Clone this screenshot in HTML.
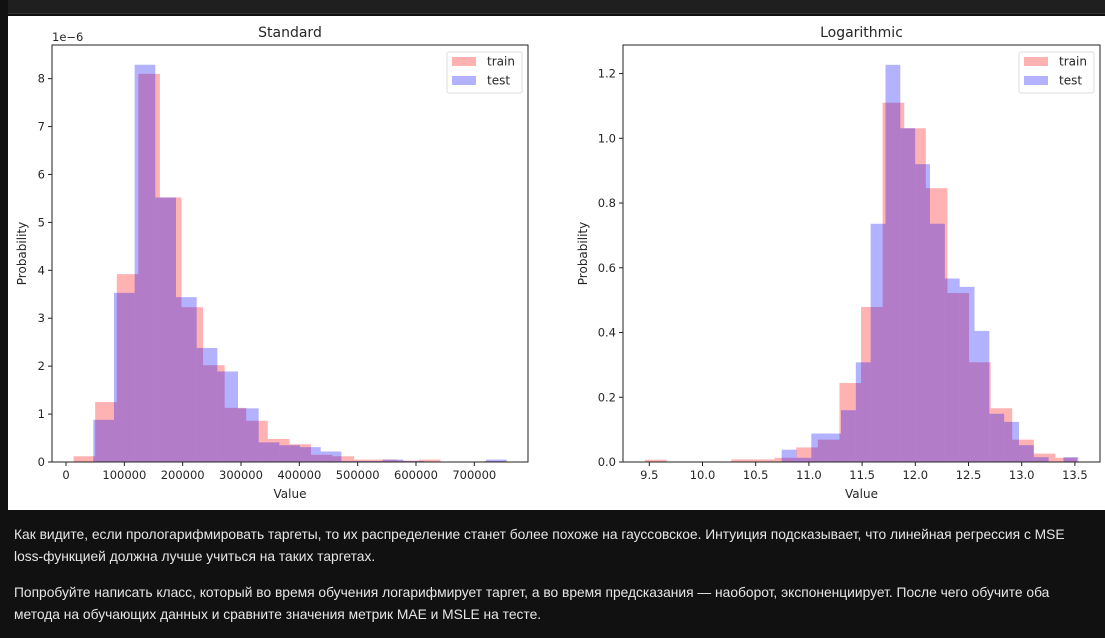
<!DOCTYPE html>
<html><head><meta charset="utf-8"><style>
body{margin:0;background:#111;width:1105px;height:638px;overflow:hidden;font-family:"Liberation Sans","DejaVu Sans",sans-serif}
#top{position:absolute;left:8px;top:0;width:1097px;height:13px;background:#1f1f1f;border-bottom:1px solid #333}
#chart{position:absolute;left:0;top:0}
.p{position:absolute;left:14px;color:#e6e6e6;font-size:13.8px;line-height:22px;font-family:"Liberation Sans","DejaVu Sans",sans-serif;white-space:nowrap}
</style></head><body>
<div id="top"></div>
<svg id="chart" width="1105" height="638" font-family="DejaVu Sans, Liberation Sans, sans-serif">
<rect x="8" y="16" width="1097" height="494" fill="#fff"/>
<g id="g1"></g>
<g id="g2"></g>
</svg>
<div class="p" style="top:524px">Как видите, если прологарифмировать таргеты, то их распределение станет более похоже на гауссовское. Интуиция подсказывает, что линейная регрессия с MSE<br>loss-функцией должна лучше учиться на таких таргетах.</div>
<div class="p" style="top:582px">Попробуйте написать класс, который во время обучения логарифмирует таргет, а во время предсказания — наоборот, экспоненциирует. После чего обучите оба<br>метода на обучающих данных и сравните значения метрик MAE и MSLE на тесте.</div>
<script>
const stdTrainStart = 13000, stdTrainWidth = 37000;
const stdTrainVals = [0.12,1.25,3.92,8.10,5.52,3.23,2.02,1.13,0.86,0.48,0.37,0.15,0.12,0.05,0.05,0.03,0.05,0,0,0.02];
const stdTestStart = 46800, stdTestWidth = 35440;
const stdTestVals = [0.88,3.53,8.29,5.52,3.44,2.38,1.89,1.12,0.41,0.35,0.31,0.22,0.02,0.02,0.05,0.02,0,0,0,0.05];
const stdXTicks = [0,100000,200000,300000,400000,500000,600000,700000];
const stdYTicks = [0,1,2,3,4,5,6,7,8];
const logTrainStart = 9.46, logTrainWidth = 0.203;
const logTrainVals = [0.007,0,0,0,0.008,0.008,0.013,0.045,0.069,0.244,0.479,1.11,1.031,0.846,0.522,0.308,0.166,0.069,0.026,0.013];
const logTestStart = 10.744, logTestWidth = 0.1394;
const logTestVals = [0.038,0.013,0.088,0.088,0.160,0.308,0.736,1.227,1.031,0.92,0.736,0.567,0.541,0.405,0.149,0.124,0.052,0.015,0,0.015];
const logXTicks = [9.5,10.0,10.5,11.0,11.5,12.0,12.5,13.0,13.5];
const logYTicks = [0,0.2,0.4,0.6,0.8,1.0,1.2];
const NS='http://www.w3.org/2000/svg';
function mk(p,t,a){const e=document.createElementNS(NS,t);for(const k in a)e.setAttribute(k,a[k]);p.appendChild(e);return e;}
function panel(g,o){
  const L=o.L,R=o.R,T=45,B=462;
  const sx=v=>o.x0px+(v-o.x0)*o.kx, sy=v=>B-v*o.ky;
  [[o.trS,o.trW,o.trV,'#ff0000','train'],[o.teS,o.teW,o.teV,'#0000ff','test']].forEach(s=>{
    s[2].forEach((v,i)=>{
      if(v<=0)return;
      const x1=sx(s[0]+i*s[1]),x2=sx(s[0]+(i+1)*s[1]);
      const r=mk(g,'rect',{x:x1,y:sy(v),width:x2-x1,height:B-sy(v),fill:s[3],'fill-opacity':0.3});
      
      
    });
  });
  const fr=mk(g,'rect',{x:L,y:T,width:R-L,height:B-T,fill:'none',stroke:'#222','stroke-width':1});
  
  
  o.xt.forEach(v=>{const x=sx(v);mk(g,'line',{x1:x,x2:x,y1:B,y2:B+4,stroke:'#222'});
    const t=mk(g,'text',{x:x,y:B+17,'text-anchor':'middle','font-size':11.5,fill:'#262626'});t.textContent=o.xf(v);
    
    });
  o.yt.forEach(v=>{const y=sy(v);mk(g,'line',{x1:L-4,x2:L,y1:y,y2:y,stroke:'#222'});
    const t=mk(g,'text',{x:L-7,y:y+4,'text-anchor':'end','font-size':11.5,fill:'#262626'});t.textContent=o.yf(v);
    
    });
  let t=mk(g,'text',{x:(L+R)/2,y:37,'text-anchor':'middle','font-size':14,fill:'#262626'});t.textContent=o.title;
  
  
  t=mk(g,'text',{x:(L+R)/2,y:498,'text-anchor':'middle','font-size':12,fill:'#262626'});t.textContent='Value';
  
  
  t=mk(g,'text',{x:o.yl,y:(T+B)/2,'text-anchor':'middle','font-size':12,fill:'#262626',transform:'rotate(-90 '+o.yl+' '+(T+B)/2+')'});t.textContent='Probability';
  
  
  const lx=o.lx;
  const lg=mk(g,'g',{});
  
  
  mk(lg,'rect',{x:lx,y:52,width:75,height:41,rx:2,fill:'#fff','fill-opacity':0.8,stroke:'#ddd'});
  [['train','#ff0000',61],['test','#0000ff',80]].forEach(e=>{
    mk(lg,'rect',{x:lx+5,y:e[2]-4,width:24,height:9,fill:e[1],'fill-opacity':0.3});
    const tt=mk(lg,'text',{x:lx+40,y:e[2]+4.5,'font-size':12,fill:'#262626'});tt.textContent=e[0];
    
    
  });
}
panel(document.getElementById('g1'),{L:52,R:528,x0:0,x0px:66,kx:58.33/100000,ky:47.92,
  trS:stdTrainStart,trW:stdTrainWidth,trV:stdTrainVals,teS:stdTestStart,teW:stdTestWidth,teV:stdTestVals,
  xt:stdXTicks,yt:stdYTicks,xf:v=>String(v),yf:v=>String(v),title:'Standard',yl:26,lx:447});
panel(document.getElementById('g2'),{L:623,R:1100,x0:9.5,x0px:649.3,kx:106.4,ky:323.7,
  trS:logTrainStart,trW:logTrainWidth,trV:logTrainVals,teS:logTestStart,teW:logTestWidth,teV:logTestVals,
  xt:logXTicks,yt:logYTicks,xf:v=>v.toFixed(1),yf:v=>v.toFixed(1),title:'Logarithmic',yl:587,lx:1019});
const ex=mk(document.getElementById('g1'),'text',{x:52,y:41,'font-size':11.5,fill:'#262626'});ex.textContent='1e\u22126';


</script>
</body></html>
